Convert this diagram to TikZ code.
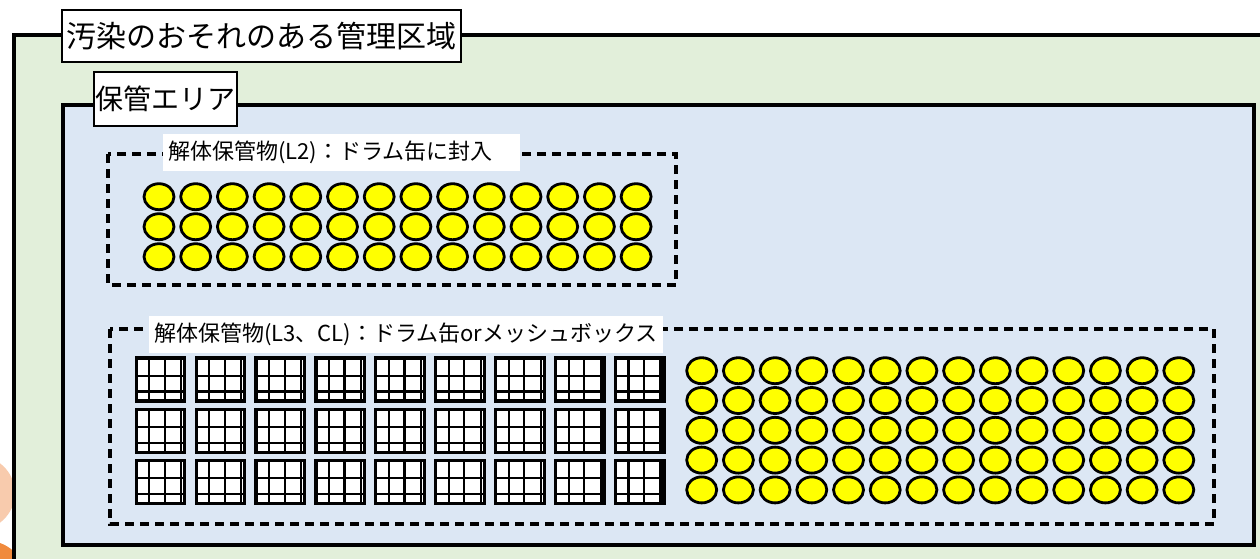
\documentclass[tikz,border=0pt]{standalone}
\usepackage{fontspec}
\setmainfont{Noto Sans CJK JP}
\usetikzlibrary{positioning,calc,shapes.geometric}
\definecolor{zonegreen}{HTML}{E2EFDA}
\definecolor{areablue}{HTML}{DCE7F4}
\definecolor{drumyellow}{HTML}{FFFF00}
\definecolor{peachlight}{HTML}{F8CBAD}
\definecolor{peachdark}{HTML}{F08A3C}

\begin{document}
\begin{tikzpicture}[x=1pt,y=-1pt,
  tag/.style={draw,fill=white,line width=1.6pt,inner sep=0pt},
  caption/.style={fill=white,inner xsep=5pt,inner ysep=0pt,minimum height=37,anchor=west,font=\fontsize{22}{24}\selectfont},
  lot/.style={draw,line width=3.2pt,dash pattern=on 9pt off 6pt},
  drum/.style={ellipse,draw,line width=2.8pt,fill=drumyellow,minimum width=30,minimum height=26,inner sep=0pt},
  mesh/.style={rectangle,draw,line width=3.2pt,fill=white,minimum width=48.5,minimum height=43,inner sep=0pt,
    path picture={
      \foreach \f in {0.27,0.59,0.93}
        \draw[line width=2.2pt] ($(path picture bounding box.north west)!\f!(path picture bounding box.north east)$) -- ($(path picture bounding box.south west)!\f!(path picture bounding box.south east)$);
      \foreach \f in {0.41,0.78}
        \draw[line width=2.2pt] ($(path picture bounding box.north west)!\f!(path picture bounding box.south west)$) -- ($(path picture bounding box.north east)!\f!(path picture bounding box.south east)$);
    }}]
			\useasboundingbox (0, 0) rectangle (1260, 558);
			\clip (0, 0) rectangle (1260, 558);
			\fill[white] (0, 0) rectangle (1260, 558);
			\fill[peachlight] (-25, 493) ellipse [x radius=40, y radius=38];
			\fill[peachdark] (-12, 585) ellipse [x radius=40, y radius=44];
			\draw[fill=zonegreen, line width=3.2pt] (14, 35) rectangle (1300, 600);
			\draw[fill=areablue, line width=3.2pt] (63, 105) rectangle (1254, 545);
			\node (zone) at (261.5, 36) [tag, minimum width=399, minimum height=52, font=\fontsize{30}{31}\selectfont] {汚染のおそれのある管理区域};
			\node (area) at (165.5, 99) [tag, minimum width=143, minimum height=54, font=\fontsize{28}{29}\selectfont] {保管エリア};
			\draw[lot] (108, 154) rectangle (676, 285);
			\node (lotL2) at (163, 152) [caption, text width=347] {解体保管物(L2)：ドラム缶に封入};
			\draw[lot] (110, 329) rectangle (1214, 524);
			\node (lotL3) at (149, 334) [caption] {解体保管物(L3、CL)：ドラム缶orメッシュボックス};
			\foreach \r in {0,1,2}
				\foreach \c in {0,...,13}
					\node (l2d-\r-\c) at (159+36.7*\c, 196.7+30*\r) [drum] {};
			\foreach \r in {0,1,2}
				\foreach \c in {0,...,8}
					\node (mb-\r-\c) at (160.5+59.9*\c, 379.5+51.3*\r) [mesh] {};
			\foreach \r in {0,...,4}
				\foreach \c in {0,...,13}
					\node (l3d-\r-\c) at (701.7+36.7*\c, 370.7+29.8*\r) [drum] {};
		\end{tikzpicture}
\end{document}
